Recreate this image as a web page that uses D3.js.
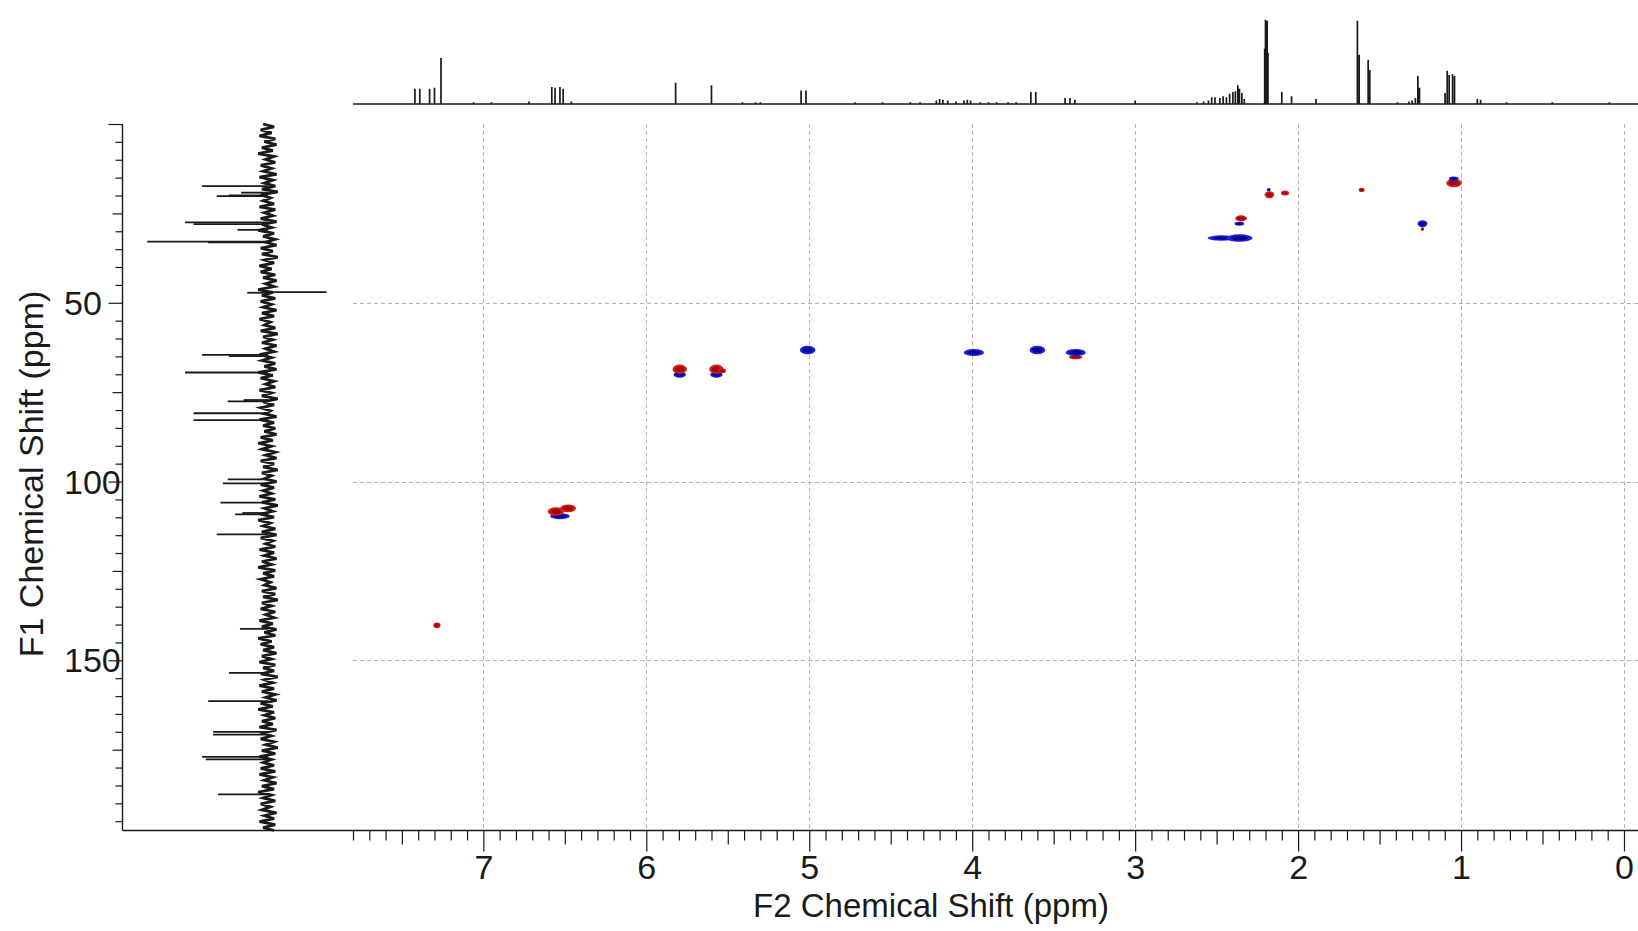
<!DOCTYPE html>
<html>
<head>
<meta charset="utf-8">
<script src="https://cdn.jsdelivr.net/npm/d3@7"></script>
<style>
    html, body { margin: 0; padding: 0; background: #fff; }
    svg { display: block; font-family: "Liberation Sans", Arial, sans-serif; }
</style>
</head>
<body>
<script>
// ---- data ----

// major chemical shift ticks
const H_TICKS = [7, 6, 5, 4, 3, 2, 1, 0];
const C_TICK_LABELS = [50, 100, 150];

// 1H projection (top): [ppm, relative intensity]
const H_PEAKS = [
    [7.42, 18], [7.39, 18], [7.33, 18], [7.30, 19], [7.26, 54],
    [7.06, 2], [6.95, 2], [6.72, 3],
    [6.58, 20], [6.56, 19], [6.53, 20], [6.51, 18], [6.46, 3],
    [5.82, 25], [5.60, 22], [5.41, 2], [5.33, 2], [5.30, 2],
    [5.05, 16], [5.02, 16], [4.72, 2], [4.55, 2], [4.38, 2], [4.32, 2],
    [4.22, 4], [4.20, 6], [4.18, 5], [4.15, 4], [4.10, 3],
    [4.05, 4], [4.03, 5], [4.01, 4], [3.95, 2], [3.90, 2], [3.85, 2],
    [3.78, 2], [3.73, 2], [3.64, 14], [3.61, 14],
    [3.43, 7], [3.40, 7], [3.37, 5], [3.00, 4],
    [2.68, 1], [2.62, 2], [2.58, 3], [2.55, 4], [2.53, 8], [2.51, 8],
    [2.48, 7], [2.46, 9], [2.44, 8], [2.42, 12], [2.40, 14], [2.385, 15],
    [2.37, 22], [2.36, 18], [2.345, 13], [2.33, 6],
    [2.205, 65], [2.200, 99], [2.190, 98], [2.185, 60],
    [2.10, 14], [2.04, 9], [1.89, 6],
    [1.636, 98], [1.625, 58], [1.57, 52], [1.56, 40],
    [1.39, 2], [1.32, 3], [1.30, 4], [1.28, 7], [1.265, 33], [1.255, 19],
    [1.098, 13], [1.085, 39], [1.073, 34], [1.052, 35], [1.040, 33],
    [0.90, 6], [0.88, 5], [0.72, 2], [0.63, 1], [0.44, 2], [0.09, 2]
];

// 13C projection (left): [ppm, relative intensity]
const C_PEAKS = [
    [17.4, 54], [19.2, 22], [20.0, 32], [20.2, 42],
    [27.5, 68], [28.0, 61], [29.6, 25], [32.9, 99], [33.1, 49],
    [47.0, -48], [47.2, 17],
    [64.6, 54], [64.9, 32], [69.5, 68], [77.2, 20], [77.6, 33],
    [80.9, 61], [82.8, 61], [99.4, 33], [100.5, 37], [105.9, 39],
    [108.8, 21], [109.2, 27], [114.8, 42], [141.2, 23], [153.5, 32],
    [161.4, 49], [170.0, 45], [170.8, 45], [177.0, 54], [177.7, 51],
    [187.5, 41]
];

// baseline noise of the 13C trace, top to bottom
const C_NOISE = [
    4, -5, 6, -3, 7, -6, 3, -7, 5, -4, 8, -5, 2, -6, 6, -3, 4, -7, 7, -4,
    3, -6, 5, -8, 6, -2, 4, -5, 7, -6, 3, -4, 6, -7, 5, -3, 8, -5, 4, -6,
    2, -7, 6, -4, 5, -8, 3, -5, 7, -3, 6, -6, 4, -7, 2, -5, 8, -4, 5, -6,
    6, -3, 4, -7, 5, -5, 7, -2, 3, -6, 6, -8, 4, -4, 5, -7, 2, -5, 7, -3,
    5, -6, 3, -7, 8, -4, 6, -5, 2, -6, 7, -3, 5, -8, 4, -5, 6, -2, 3, -7,
    7, -5, 4, -6, 3, -7, 6, -4, 8, -3, 5, -6, 2, -7, 6, -5, 4, -8, 5, -3,
    3, -7, 6, -5, 4, -3, 7, -6, 5, -8, 3, -4, 6, -5, 8, -2, 4, -6, 5, -7,
    6, -4, 2, -6, 7, -5, 3, -7, 5, -3, 8, -6, 4, -5, 6, -2, 3, -7, 5, -6,
    4, -8, 5, -3, 6, -6, 2, -5, 7, -4, 5, -7, 3, -6, 8, -3, 6, -5, 4, -7,
    5, -3, 7, -6, 4, -5, 6, -8, 3, -4, 7, -5, 5, -6, 2, -7, 6, -4, 8, -5,
    3, -6, 5, -4, 7, -7, 4, -3, 6, -5, 2, -8, 5, -6, 7, -3, 4, -5, 6, -6,
    7, -4, 3, -7, 5, -5, 8, -3, 4, -6, 6, -2, 5, -7, 3, -5, 7, -6, 4, -5
];

// HSQC cross peak contours: [H ppm, C ppm, phase, H half width, C half width]
const CROSS_PEAKS = [
    [7.285, 140.2, 1, 0.022, 0.8],
    [6.53, 109.7, -1, 0.06, 0.85],
    [6.555, 108.4, 1, 0.05, 1.2],
    [6.48, 107.5, 1, 0.048, 1.1],
    [5.795, 70.1, -1, 0.038, 0.85],
    [5.795, 68.6, 1, 0.044, 1.3],
    [5.57, 70.1, -1, 0.038, 0.85],
    [5.57, 68.6, 1, 0.044, 1.3],
    [5.535, 69.0, 1, 0.024, 0.7],
    [5.01, 63.2, -1, 0.048, 1.2],
    [3.99, 63.9, -1, 0.062, 1.0],
    [3.60, 63.2, -1, 0.048, 1.2],
    [3.365, 65.2, 1, 0.042, 0.6],
    [3.365, 63.9, -1, 0.062, 1.0],
    [2.47, 31.9, -1, 0.085, 0.75],
    [2.36, 31.9, -1, 0.08, 1.05],
    [2.36, 27.9, -1, 0.03, 0.55],
    [2.35, 26.4, 1, 0.036, 0.85],
    [2.18, 18.4, -1, 0.012, 0.5],
    [2.176, 19.8, 1, 0.03, 1.0],
    [2.08, 19.3, 1, 0.025, 0.7],
    [1.61, 18.45, 1, 0.018, 0.6],
    [1.237, 29.4, 1, 0.011, 0.5],
    [1.237, 27.9, -1, 0.03, 0.95],
    [1.043, 16.5, 1, 0.048, 1.2],
    [1.045, 15.3, -1, 0.03, 0.65]
];

// ---- layout ----
const WIDTH = 1638;
const HEIGHT = 931;

const PLOT_LEFT = 353;
const PLOT_RIGHT = 1638;
const PLOT_TOP = 124;
const PLOT_BOTTOM = 830.5;
const Y_AXIS_X = 122.5;

const H_BASELINE = 104;
const H_PEAK_TOP = 19;
const C_BASELINE = 268;
const C_PEAK_LEFT = 146;

const FONT_TICK = 34;
const FONT_TITLE = 33;
const INK = "#1a1a1a";
const GRID = "#b4b4b4";

const POS_COLORS = ["#dc1a14", "#9c0a0a"];
const NEG_COLORS = ["#1e1ee0", "#06068e"];

const xScale = d3.scaleLinear().domain([7.8, -0.086]).range([PLOT_LEFT, PLOT_RIGHT]);
const yScale = d3.scaleLinear().domain([0, 197.6]).range([PLOT_TOP, PLOT_BOTTOM]);
const hIntensity = d3.scaleLinear().domain([0, 100]).range([H_BASELINE, H_PEAK_TOP]);
const cIntensity = d3.scaleLinear().domain([0, 100]).range([C_BASELINE, C_PEAK_LEFT]);
const noiseScale = d3.scaleLinear().domain([0, C_NOISE.length - 1]).range([PLOT_TOP, PLOT_BOTTOM]);

const svg = d3.select("body").append("svg")
    .attr("width", WIDTH)
    .attr("height", HEIGHT)
    .attr("viewBox", `0 0 ${WIDTH} ${HEIGHT}`);

// Dashed grid behind the contours
const grid = svg.append("g")
    .attr("stroke", GRID)
    .attr("stroke-width", 1)
    .attr("stroke-dasharray", "4,3");

grid.selectAll("none")
    .data(H_TICKS)
    .join("line")
    .attr("x1", d => Math.round(xScale(d)) + 0.5)
    .attr("x2", d => Math.round(xScale(d)) + 0.5)
    .attr("y1", PLOT_TOP)
    .attr("y2", PLOT_BOTTOM);

grid.selectAll("none")
    .data(C_TICK_LABELS)
    .join("line")
    .attr("x1", PLOT_LEFT)
    .attr("x2", PLOT_RIGHT)
    .attr("y1", d => Math.round(yScale(d)) + 0.5)
    .attr("y2", d => Math.round(yScale(d)) + 0.5);

// Cross peaks: an outer contour and a darker core
const contours = svg.append("g");
CROSS_PEAKS.forEach(([h, c, phase, dh, dc]) => {
    const colors = phase > 0 ? POS_COLORS : NEG_COLORS;
    const cx = xScale(h);
    const cy = yScale(c);
    const rx = Math.abs(xScale(h - dh) - cx);
    const ry = Math.abs(yScale(c + dc) - cy);
    contours.append("ellipse")
        .attr("cx", cx).attr("cy", cy)
        .attr("rx", rx).attr("ry", ry)
        .attr("fill", colors[0]);
    contours.append("ellipse")
        .attr("cx", cx).attr("cy", cy)
        .attr("rx", rx * 0.65).attr("ry", ry * 0.6)
        .attr("fill", colors[1]);
});

// 1H projection drawn as a stick trace along the baseline
const hSorted = H_PEAKS.slice().sort((a, b) => b[0] - a[0]);
const hPoints = [[xScale.domain()[0], 0]];
hSorted.forEach(([p, v]) => {
    hPoints.push([p, 0], [p, v], [p, 0]);
});
hPoints.push([xScale.domain()[1], 0]);

svg.append("path")
    .attr("d", d3.line().x(d => xScale(d[0])).y(d => hIntensity(d[1]))(hPoints))
    .attr("fill", "none")
    .attr("stroke", INK)
    .attr("stroke-width", 1.7);

// 13C projection: noisy baseline plus peak sticks
svg.append("path")
    .attr("d", d3.line().x(d => cIntensity(d)).y((_d, i) => noiseScale(i))(C_NOISE))
    .attr("fill", "none")
    .attr("stroke", INK)
    .attr("stroke-width", 2.8);

svg.append("g")
    .selectAll("line")
    .data(C_PEAKS)
    .join("line")
    .attr("x1", cIntensity(0))
    .attr("x2", d => cIntensity(d[1]))
    .attr("y1", d => yScale(d[0]))
    .attr("y2", d => yScale(d[0]))
    .attr("stroke", INK)
    .attr("stroke-width", 1.8);

// X axis: minor, half and integer ticks
const tenths = d3.range(78, -1, -1).map(i => i / 10);
const minorTicks = tenths.filter(v => Math.abs(v * 2 - Math.round(v * 2)) > 1e-6);
const halfTicks = tenths.filter(v => Math.abs(v * 2 - Math.round(v * 2)) < 1e-6 && Math.abs(v - Math.round(v)) > 1e-6);

function styleAxis(g) {
    g.select(".domain").remove();
    g.selectAll("line").attr("stroke", INK).attr("stroke-width", 1.2);
    g.selectAll("text")
        .attr("fill", INK)
        .style("font-size", `${FONT_TICK}px`)
        .style("font-family", '"Liberation Sans", Arial, sans-serif');
}

svg.append("g")
    .attr("transform", `translate(0, ${PLOT_BOTTOM})`)
    .call(d3.axisBottom(xScale).tickValues(minorTicks).tickSize(10).tickFormat(""))
    .call(styleAxis);

svg.append("g")
    .attr("transform", `translate(0, ${PLOT_BOTTOM})`)
    .call(d3.axisBottom(xScale).tickValues(halfTicks).tickSize(14).tickFormat(""))
    .call(styleAxis);

svg.append("g")
    .attr("transform", `translate(0, ${PLOT_BOTTOM})`)
    .call(d3.axisBottom(xScale).tickValues(H_TICKS).tickSize(21).tickPadding(3).tickFormat(d3.format("d")))
    .call(styleAxis);

// Y axis ticks every 5 ppm
const cTicks = d3.range(0, 196, 5);
function cTickLength(v) {
    if (v % 50 === 0) return 14;
    if (v % 25 === 0) return 10;
    return 7;
}
[...new Set(cTicks.map(cTickLength))].forEach(len => {
    svg.append("g")
        .attr("transform", `translate(${Y_AXIS_X}, 0)`)
        .call(d3.axisLeft(yScale).tickValues(cTicks.filter(v => cTickLength(v) === len)).tickSize(len).tickFormat(""))
        .call(styleAxis);
});

svg.append("g")
    .selectAll("text")
    .data(C_TICK_LABELS)
    .join("text")
    .attr("x", 64)
    .attr("y", d => yScale(d))
    .attr("dominant-baseline", "central")
    .attr("fill", INK)
    .style("font-size", `${FONT_TICK}px`)
    .text(d => d);

// Frame lines: left axis and the shared bottom line
svg.append("line")
    .attr("x1", Y_AXIS_X).attr("x2", Y_AXIS_X)
    .attr("y1", PLOT_TOP).attr("y2", PLOT_BOTTOM)
    .attr("stroke", INK).attr("stroke-width", 1.4);

svg.append("line")
    .attr("x1", Y_AXIS_X).attr("x2", PLOT_RIGHT)
    .attr("y1", PLOT_BOTTOM).attr("y2", PLOT_BOTTOM)
    .attr("stroke", INK).attr("stroke-width", 1.4);

// Axis titles
svg.append("text")
    .attr("x", 931)
    .attr("y", 917)
    .attr("text-anchor", "middle")
    .attr("fill", INK)
    .style("font-size", `${FONT_TITLE}px`)
    .text("F2 Chemical Shift (ppm)");

svg.append("text")
    .attr("transform", `translate(43, 474) rotate(-90)`)
    .attr("text-anchor", "middle")
    .attr("fill", INK)
    .style("font-size", `${FONT_TITLE + 1}px`)
    .text("F1 Chemical Shift (ppm)");
</script>
</body>
</html>
